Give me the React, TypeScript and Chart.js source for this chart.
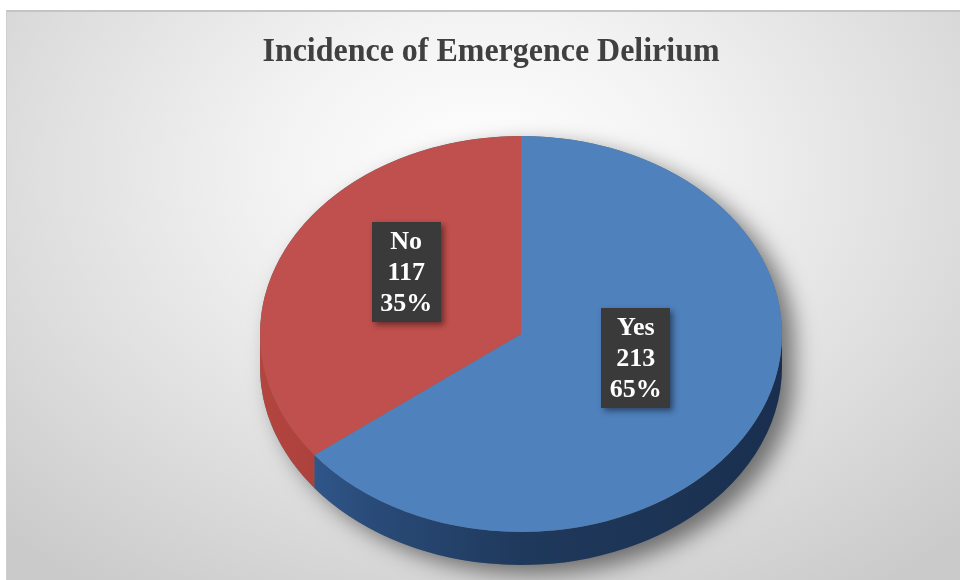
import React, { useEffect, useRef } from "react";
import { Chart, registerables } from "chart.js";

Chart.register(...registerables);

const TITLE = "Incidence of Emergence Delirium";
const categories = ["Yes", "No"];
const counts = [213, 117];
const topColors = ["#4f81bd", "#c0504d"];
const sideStops = [
  ["#36609a", "#2a4c7a", "#1f395c", "#1a2f4f"],
  ["#b4453f", "#a63e3a", "#963532", "#8a302d"],
];

const TILT = 0.7586; // vertical squash of the pie top
const DEPTH = 33; // thickness of the pie
const RADIUS = 261;
const LABEL_F = 0.49;
const LABEL_LIFT = 19;

const pie3d = {
  id: "pie3d",
  beforeDatasetsDraw(chart: any) {
    const ctx: CanvasRenderingContext2D = chart.ctx;
    const arcs = chart.getDatasetMeta(0).data;
    ctx.save();
    if (!arcs.length) return;
    const p0 = arcs[0].getProps(["x", "y", "outerRadius"], true);
    const cx = p0.x, cy = p0.y, R = p0.outerRadius;
    const ry = R * TILT;

    // soft drop shadow of the whole disc
    ctx.save();
    ctx.shadowColor = "rgba(0,0,0,0.5)";
    ctx.shadowBlur = 22;
    ctx.shadowOffsetX = 12;
    ctx.shadowOffsetY = 9;
    ctx.fillStyle = "#6a6a6a";
    ctx.beginPath();
    ctx.ellipse(cx, cy, R, ry, 0, Math.PI, 2 * Math.PI);
    ctx.ellipse(cx, cy + DEPTH, R, ry, 0, 0, Math.PI);
    ctx.closePath();
    ctx.fill();
    ctx.restore();

    // visible side walls
    arcs.forEach((arc: any, i: number) => {
      const { startAngle, endAngle } = arc.getProps(["startAngle", "endAngle"], true);
      const windows = [
        [-2 * Math.PI, -Math.PI],
        [0, Math.PI],
        [2 * Math.PI, 3 * Math.PI],
      ];
      windows.forEach(([w0, w1]) => {
        const a = Math.max(startAngle, w0);
        const b = Math.min(endAngle, w1);
        if (b <= a) return;
        const g = ctx.createLinearGradient(cx - R, 0, cx + R, 0);
        const st = sideStops[i];
        g.addColorStop(0, st[0]);
        g.addColorStop(0.2, st[1]);
        g.addColorStop(0.5, st[2]);
        g.addColorStop(1, st[3]);
        ctx.fillStyle = g;
        ctx.beginPath();
        ctx.ellipse(cx, cy, R, ry, 0, a, b);
        ctx.ellipse(cx, cy + DEPTH, R, ry, 0, b, a, true);
        ctx.closePath();
        ctx.fill();
      });
    });

    // squash the top face drawn by Chart.js
    ctx.translate(0, cy);
    ctx.scale(1, TILT);
    ctx.translate(0, -cy);
  },
  afterDatasetsDraw(chart: any) {
    chart.ctx.restore();
  },
};

const labelsAndTitle = {
  id: "labelsAndTitle",
  afterDraw(chart: any) {
    const ctx: CanvasRenderingContext2D = chart.ctx;
    const total = counts.reduce((s, v) => s + v, 0);
    const arcs = chart.getDatasetMeta(0).data;
    ctx.save();
    // title (slightly condensed like the original)
    ctx.save();
    ctx.translate(491, 61);
    ctx.scale(0.94, 1);
    ctx.font = "bold 34px 'Liberation Serif', 'Times New Roman', serif";
    ctx.fillStyle = "#404040";
    ctx.textAlign = "center";
    ctx.textBaseline = "alphabetic";
    ctx.fillText(TITLE, 0, 0);
    ctx.restore();

    const lineH = 31;
    ctx.font = "bold 26px 'Liberation Serif', 'Times New Roman', serif";
    arcs.forEach((arc: any, i: number) => {
      const { x, y, startAngle, endAngle, outerRadius } = arc.getProps(
        ["x", "y", "startAngle", "endAngle", "outerRadius"],
        true
      );
      const mid = (startAngle + endAngle) / 2;
      const lx = x + Math.cos(mid) * outerRadius * LABEL_F;
      const ly = y - LABEL_LIFT + Math.sin(mid) * outerRadius * TILT * LABEL_F;
      const lines = [
        categories[i],
        String(counts[i]),
        Math.round((counts[i] / total) * 100) + "%",
      ];
      const w = Math.max(...lines.map((t) => ctx.measureText(t).width)) + 17;
      const h = lines.length * lineH + 7;
      const bx = Math.round(lx - w / 2);
      const by = Math.round(ly - h / 2);
      ctx.save();
      ctx.shadowColor = "rgba(0,0,0,0.45)";
      ctx.shadowBlur = 6;
      ctx.shadowOffsetX = 3;
      ctx.shadowOffsetY = 3;
      ctx.fillStyle = "#3a3a3a";
      ctx.fillRect(bx, by, w, h);
      ctx.restore();
      ctx.fillStyle = "#ffffff";
      ctx.textAlign = "center";
      ctx.textBaseline = "middle";
      lines.forEach((t, j) => {
        ctx.fillText(t, lx, by + 4 + lineH * (j + 0.5) + 1);
      });
    });
    ctx.restore();
  },
};

export default function App() {
  const canvasRef = useRef<HTMLCanvasElement | null>(null);

  useEffect(() => {
    if (!canvasRef.current) return;
    const chart = new Chart(canvasRef.current, {
      type: "pie",
      data: {
        labels: categories,
        datasets: [
          {
            data: counts,
            backgroundColor: topColors,
            borderWidth: 0,
            clip: false as any,
          },
        ],
      },
      options: {
        animation: false,
        responsive: false,
        events: [],
        radius: RADIUS,
        layout: { padding: { left: 82, right: 0, top: 88, bottom: 0 } },
        plugins: {
          legend: { display: false },
          title: { display: false },
          tooltip: { enabled: false },
        },
      } as any,
      plugins: [pie3d, labelsAndTitle],
    });
    return () => chart.destroy();
  }, []);

  return (
    <div
      style={{
        position: "fixed",
        left: 0,
        top: 0,
        width: 960,
        height: 580,
        background: "#ffffff",
        overflow: "hidden",
      }}
    >
      <div
        style={{
          position: "absolute",
          left: 6,
          top: 10,
          right: 0,
          bottom: 0,
          borderTop: "2px solid #c4c4c4",
          borderLeft: "1px solid #cfcfcf",
          background:
            "radial-gradient(ellipse 72% 90% at 50% 28%, #ffffff 0%, #f3f3f3 30%, #dfdfdf 65%, #cacaca 100%)",
        }}
      />
      <canvas
        ref={canvasRef}
        width={960}
        height={580}
        style={{ position: "absolute", left: 0, top: 0, width: 960, height: 580 }}
      />
    </div>
  );
}
